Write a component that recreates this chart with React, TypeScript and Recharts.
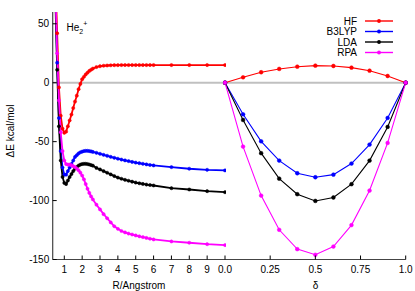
import React from "react";
import {
  LineChart,
  Line,
  XAxis,
  YAxis,
  ReferenceLine,
} from "recharts";

// He2+ dissociation curves (left) and fractional charge δ (right)
const rValues = [
  0.5, 0.6, 0.7, 0.8, 0.9, 1.0, 1.1, 1.2, 1.3, 1.4, 1.5, 1.6, 1.7, 1.8, 1.9,
  2.0, 2.1, 2.2, 2.3, 2.4, 2.5, 2.6, 2.8, 3.0, 3.2, 3.4, 3.6, 3.8, 4.0, 4.2,
  4.4, 4.6, 4.8, 5.0, 5.2, 5.4, 5.6, 5.8, 6.0, 7, 8, 9, 10,
];
const hfCurve = [
  90, 42, -4, -28, -39, -42.5, -41.5, -37, -32, -27, -21.5, -16, -11, -5.5, -1,
  3, 5, 7, 8.5, 10, 11, 12, 13.3, 14, 14.4, 14.6, 14.8, 14.9, 14.9, 15, 15, 15,
  15, 15, 15, 15, 15, 15, 15, 15, 15, 15, 15,
];
const b3lypCurve = [
  75, 17, -30, -58, -72, -78, -78, -75, -72, -69, -66, -63, -61.5, -60, -59,
  -58.5, -58, -57.8, -57.8, -58, -58.3, -58.7, -59.5, -60.3, -61.2, -62, -62.9,
  -63.7, -64.5, -65.2, -65.9, -66.5, -67.2, -67.8, -68.3, -68.8, -69.3, -69.8,
  -70.2, -71.6, -73, -73.9, -74.4,
];
const ldaCurve = [
  70, 11, -37, -66, -80, -85, -86, -83, -80, -77.5, -75, -73, -71.5, -70.3,
  -69.5, -69, -68.8, -68.8, -69, -69.4, -69.9, -70.4, -72.3, -73.6, -75, -76.4,
  -77.8, -79.2, -80.5, -81.5, -82.4, -83.2, -84, -84.7, -85.3, -85.9, -86.4,
  -86.8, -87.2, -89.5, -90.6, -92, -92.9,
];
const rpaCurve = [
  80, 25, -15, -42, -58, -66, -69, -69.5, -69.5, -70, -70.8, -71.6, -72.8,
  -74.3, -76.3, -78.8, -82, -86, -90, -93.5, -96.5, -99, -103.5, -107.5,
  -111.5, -115, -118.5, -121.8, -124, -125.8, -127, -128, -128.8, -129.6,
  -130.3, -131, -131.7, -132.4, -133, -134.7, -135.8, -137, -137.8,
];

const deltaValues = [0, 0.1, 0.2, 0.3, 0.4, 0.5, 0.6, 0.7, 0.8, 0.9, 1.0];
const hfDelta = [0, 4.6, 8.9, 11.7, 13.6, 14.5, 14.2, 12.8, 10.2, 5.7, 0];
const b3lypDelta = [0, -26.8, -49.7, -66.1, -76.8, -80.2, -78, -68.6, -52.5, -29.9, 0];
const ldaDelta = [0, -31.6, -59.8, -81.4, -94.6, -100.3, -97.4, -86.1, -66.1, -37.5, 0];
const rpaDelta = [0, -54.2, -95.8, -124.8, -141.2, -146, -139, -120.8, -91.5, -51.1, 0];

const yTicks = [-150, -100, -50, 0, 50];
const rTicks = [1, 2, 3, 4, 5, 6, 7, 8, 9];
const deltaTicks = [0, 0.25, 0.5, 0.75, 1];
const deltaLabels: Record<number, string> = { 0: "0.0", 0.25: "0.25", 0.5: "0.5", 0.75: "0.75", 1: "1.0" };

const series = [
  { key: "hf", name: "HF", color: "#ff0000" },
  { key: "b3lyp", name: "B3LYP", color: "#0000ff" },
  { key: "lda", name: "LDA", color: "#000000" },
  { key: "rpa", name: "RPA", color: "#ff00ff" },
];

const leftData = rValues.map((r, i) => ({
  r,
  hf: hfCurve[i],
  b3lyp: b3lypCurve[i],
  lda: ldaCurve[i],
  rpa: rpaCurve[i],
}));

const rightData = deltaValues.map((d, i) => ({
  d,
  hf: hfDelta[i],
  b3lyp: b3lypDelta[i],
  lda: ldaDelta[i],
  rpa: rpaDelta[i],
}));

const FONT = "'Liberation Sans', Arial, sans-serif";
const border = { stroke: "#444", strokeWidth: 1.2 };
const Y_DOMAIN: [number, number] = [-150, 60];
const TOP = 12;
const BOTTOM = 259.5;
const TICK = 4;

// gnuplot style: ticks point into the plot, labels outside
const xTick = (axisY: number, dir: number, label?: (v: number) => string) => (props: any) => {
  const { x, payload } = props;
  return (
    <g>
      <line x1={x} x2={x} y1={axisY} y2={axisY + dir * TICK} stroke="#000" strokeWidth={1} />
      {label && (
        <text x={x} y={axisY + 13.5} textAnchor="middle" fontSize={10} fontFamily={FONT} fill="#000">
          {label(payload.value)}
        </text>
      )}
    </g>
  );
};

const yTick = (axisX: number, dir: number, label?: boolean) => (props: any) => {
  const { y, payload } = props;
  return (
    <g>
      <line x1={axisX} x2={axisX + dir * TICK} y1={y} y2={y} stroke="#000" strokeWidth={1} />
      {label && (
        <text x={axisX - 3.5} y={y + 3.6} textAnchor="end" fontSize={10} fontFamily={FONT} fill="#000">
          {payload.value}
        </text>
      )}
    </g>
  );
};

function Legend() {
  return (
    <g fontFamily={FONT} fontSize={10}>
      {series.map((s, i) => {
        const y = 21 + i * 10.5;
        return (
          <g key={s.key}>
            <text x={357} y={y + 3.6} textAnchor="end" fill="#000">
              {s.name}
            </text>
            <line x1={365} x2={393} y1={y} y2={y} stroke={s.color} strokeWidth={1.4} />
            <circle cx={379} cy={y} r={1.9} fill={s.color} />
          </g>
        );
      })}
    </g>
  );
}

export default function App() {
  const lLeft = 52.7;
  const lRight = 225;
  const rLeft = 25;
  const rRight = 205.7;
  return (
    <div
      style={{
        position: "absolute",
        left: 0,
        top: 0,
        width: 415,
        height: 291,
        background: "#fff",
      }}
    >
      <div style={{ position: "absolute", left: 0, top: 0 }}>
        <LineChart
          width={226}
          height={291}
          data={leftData}
          margin={{ top: TOP, right: 1, bottom: 0, left: 0 }}
        >
          <XAxis
            dataKey="r"
            type="number"
            domain={[0.35, 10]}
            ticks={rTicks}
            height={291 - BOTTOM}
            tick={xTick(BOTTOM, -1, (v) => String(v))}
            tickLine={false}
            axisLine={border}
            allowDataOverflow
          />
          <XAxis
            xAxisId="top"
            orientation="top"
            type="number"
            domain={[0.35, 10]}
            ticks={rTicks}
            height={0}
            tick={xTick(TOP, 1)}
            tickLine={false}
            axisLine={border}
            allowDataOverflow
          />
          <YAxis
            type="number"
            domain={Y_DOMAIN}
            ticks={yTicks}
            width={lLeft}
            tick={yTick(lLeft, 1, true)}
            tickLine={false}
            axisLine={border}
            allowDataOverflow
          />
          <YAxis
            yAxisId="right"
            orientation="right"
            type="number"
            domain={Y_DOMAIN}
            ticks={yTicks}
            width={0}
            tick={yTick(lRight, -1)}
            tickLine={false}
            axisLine={border}
            allowDataOverflow
          />
          <ReferenceLine y={0} stroke="#c0c0c0" strokeWidth={2} />
          {series.map((s) => (
            <Line
              key={s.key}
              dataKey={s.key}
              type="linear"
              stroke={s.color}
              strokeWidth={1.8}
              dot={{ r: 1.6, fill: s.color, stroke: s.color, strokeWidth: 0.5, clipDot: false }}
              isAnimationActive={false}
            />
          ))}
        </LineChart>
      </div>

      <div style={{ position: "absolute", left: 200, top: 0 }}>
        <LineChart
          width={215}
          height={291}
          data={rightData}
          margin={{ top: TOP, right: 215 - rRight, bottom: 0, left: rLeft }}
        >
          <XAxis
            dataKey="d"
            type="number"
            domain={[0, 1]}
            ticks={deltaTicks}
            height={291 - BOTTOM}
            tick={xTick(BOTTOM, -1, (v) => deltaLabels[v] ?? String(v))}
            tickLine={false}
            axisLine={border}
          />
          <XAxis
            xAxisId="top"
            orientation="top"
            type="number"
            domain={[0, 1]}
            ticks={deltaTicks}
            height={0}
            tick={xTick(TOP, 1)}
            tickLine={false}
            axisLine={border}
          />
          <YAxis
            type="number"
            domain={Y_DOMAIN}
            ticks={yTicks}
            width={0}
            tick={yTick(rLeft, 1)}
            tickLine={false}
            axisLine={border}
            allowDataOverflow
          />
          <YAxis
            yAxisId="right"
            orientation="right"
            type="number"
            domain={Y_DOMAIN}
            ticks={yTicks}
            width={0}
            tick={yTick(rRight, -1)}
            tickLine={false}
            axisLine={border}
            allowDataOverflow
          />
          <ReferenceLine y={0} stroke="#c0c0c0" strokeWidth={2} />
          {series.map((s) => (
            <Line
              key={s.key}
              dataKey={s.key}
              type="linear"
              stroke={s.color}
              strokeWidth={1.1}
              dot={{ r: 1.9, fill: s.color, stroke: s.color, strokeWidth: 0.5, clipDot: false }}
              isAnimationActive={false}
            />
          ))}
        </LineChart>
      </div>

      <svg
        width={415}
        height={291}
        style={{ position: "absolute", left: 0, top: 0, pointerEvents: "none" }}
      >
        <text
          x={0}
          y={0}
          transform="translate(13.5,131) rotate(-90)"
          textAnchor="middle"
          fontFamily={FONT}
          fontSize={10}
          fill="#000"
        >
          ΔE kcal/mol
        </text>
        <text x={139} y={289} textAnchor="middle" fontFamily={FONT} fontSize={10} fill="#000">
          R/Angstrom
        </text>
        <text x={315.5} y={289} textAnchor="middle" fontFamily={FONT} fontSize={10} fill="#000">
          δ
        </text>
        <text x={66.5} y={30.5} fontFamily={FONT} fontSize={10} fill="#000">
          He
          <tspan fontSize={7} dy={3}>2</tspan>
          <tspan fontSize={7} dy={-7.5}>+</tspan>
        </text>
        <Legend />
      </svg>
    </div>
  );
}
